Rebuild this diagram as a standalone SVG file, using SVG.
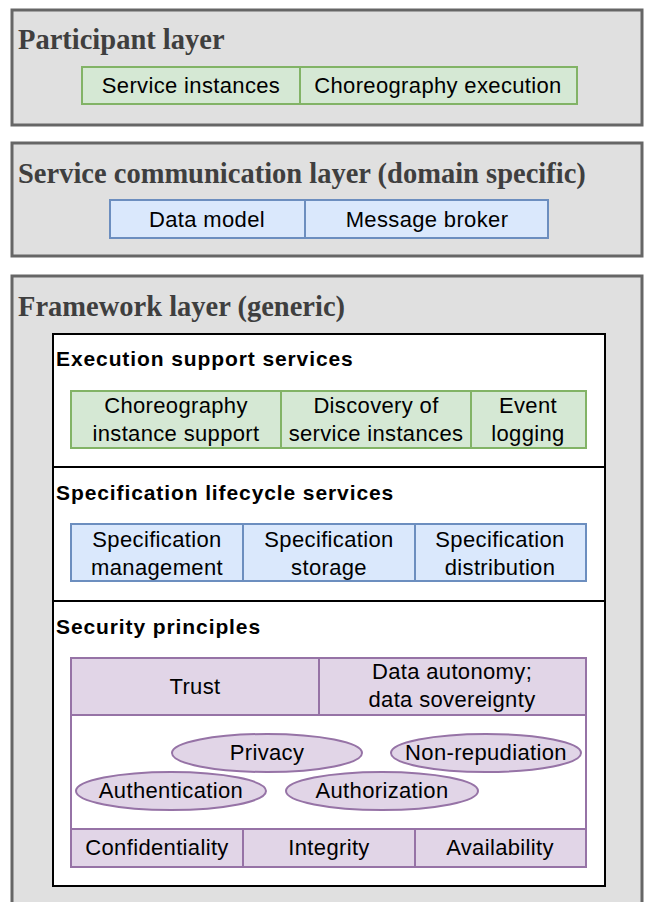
<svg xmlns="http://www.w3.org/2000/svg" width="648" height="902" viewBox="0 0 648 902">
  <style>
    .layer { fill: #e0e0e0; stroke: #666666; stroke-width: 3; }
    .layer-title { font-family: "Liberation Serif", "Times New Roman", serif; font-weight: bold; font-size: 28.5px; fill: #3f3f3f; }
    .group-box { fill: #ffffff; stroke: #000000; stroke-width: 2; }
    .group-title { font-family: "Liberation Sans", Arial, sans-serif; font-weight: bold; font-size: 21px; letter-spacing: 0.9px; fill: #000000; }
    .label { font-family: "Liberation Sans", Arial, sans-serif; font-size: 22px; letter-spacing: 0.35px; fill: #000000; text-anchor: middle; }
    .green { fill: #d5e8d4; stroke: #82b366; stroke-width: 2; }
    .blue { fill: #dae8fc; stroke: #6c8ebf; stroke-width: 2; }
    .purple { fill: #e1d5e7; stroke: #9673a6; stroke-width: 2; }
    .plain { fill: #ffffff; stroke: #9673a6; stroke-width: 2; }
  </style>

  <!-- Participant layer -->
  <g id="participant-layer">
    <rect class="layer" x="12" y="10" width="630" height="115"/>
    <text class="layer-title" x="18" y="49">Participant layer</text>
    <g id="service-instances">
      <rect class="green" x="82" y="67" width="218" height="37"/>
      <text class="label" x="191" y="92.5">Service instances</text>
    </g>
    <g id="choreography-execution">
      <rect class="green" x="300" y="67" width="277" height="37"/>
      <text class="label" x="438" y="92.5">Choreography execution</text>
    </g>
  </g>

  <!-- Service communication layer -->
  <g id="service-communication-layer">
    <rect class="layer" x="12" y="143" width="630" height="113"/>
    <text class="layer-title" x="18" y="182.5">Service communication layer (domain specific)</text>
    <g id="data-model">
      <rect class="blue" x="110" y="200" width="195" height="38"/>
      <text class="label" x="207" y="227">Data model</text>
    </g>
    <g id="message-broker">
      <rect class="blue" x="305" y="200" width="243" height="38"/>
      <text class="label" x="427" y="227">Message broker</text>
    </g>
  </g>

  <!-- Framework layer -->
  <g id="framework-layer">
    <rect class="layer" x="12" y="276" width="630" height="640"/>
    <text class="layer-title" x="18" y="315.5">Framework layer (generic)</text>
    <rect class="group-box" x="53" y="334" width="552" height="552"/>
    <line x1="53" y1="467" x2="605" y2="467" stroke="#000000" stroke-width="2"/>
    <line x1="53" y1="601" x2="605" y2="601" stroke="#000000" stroke-width="2"/>
  </g>

  <!-- Execution support services -->
  <g id="execution-support-services">
    <text class="group-title" x="56" y="366">Execution support services</text>
    <g id="choreography-instance-support">
      <rect class="green" x="71" y="391" width="210" height="57"/>
      <text class="label" x="176" y="413">Choreography</text>
      <text class="label" x="176" y="441">instance support</text>
    </g>
    <g id="discovery-of-service-instances">
      <rect class="green" x="281" y="391" width="190" height="57"/>
      <text class="label" x="376" y="413">Discovery of</text>
      <text class="label" x="376" y="441">service instances</text>
    </g>
    <g id="event-logging">
      <rect class="green" x="471" y="391" width="115" height="57"/>
      <text class="label" x="528" y="413">Event</text>
      <text class="label" x="528" y="441">logging</text>
    </g>
  </g>

  <!-- Specification lifecycle services -->
  <g id="specification-lifecycle-services">
    <text class="group-title" x="56" y="500">Specification lifecycle services</text>
    <g id="specification-management">
      <rect class="blue" x="71" y="524" width="172" height="57"/>
      <text class="label" x="157" y="547">Specification</text>
      <text class="label" x="157" y="575">management</text>
    </g>
    <g id="specification-storage">
      <rect class="blue" x="243" y="524" width="172" height="57"/>
      <text class="label" x="329" y="547">Specification</text>
      <text class="label" x="329" y="575">storage</text>
    </g>
    <g id="specification-distribution">
      <rect class="blue" x="415" y="524" width="171" height="57"/>
      <text class="label" x="500" y="547">Specification</text>
      <text class="label" x="500" y="575">distribution</text>
    </g>
  </g>

  <!-- Security principles -->
  <g id="security-principles">
    <text class="group-title" x="56" y="634">Security principles</text>
    <rect class="plain" x="71" y="715" width="515" height="114"/>
    <g id="trust">
      <rect class="purple" x="71" y="658" width="248" height="57"/>
      <text class="label" x="195" y="694">Trust</text>
    </g>
    <g id="data-autonomy">
      <rect class="purple" x="319" y="658" width="267" height="57"/>
      <text class="label" x="452" y="679">Data autonomy;</text>
      <text class="label" x="452" y="707">data sovereignty</text>
    </g>
    <g id="privacy">
      <ellipse class="purple" cx="267" cy="753" rx="95" ry="19"/>
      <text class="label" x="267" y="760">Privacy</text>
    </g>
    <g id="non-repudiation">
      <ellipse class="purple" cx="486" cy="753" rx="95" ry="19"/>
      <text class="label" x="486" y="760">Non-repudiation</text>
    </g>
    <g id="authentication">
      <ellipse class="purple" cx="171" cy="791" rx="95" ry="19"/>
      <text class="label" x="171" y="798">Authentication</text>
    </g>
    <g id="authorization">
      <ellipse class="purple" cx="382" cy="791" rx="96" ry="19"/>
      <text class="label" x="382" y="798">Authorization</text>
    </g>
    <g id="confidentiality">
      <rect class="purple" x="71" y="829" width="172" height="38"/>
      <text class="label" x="157" y="855">Confidentiality</text>
    </g>
    <g id="integrity">
      <rect class="purple" x="243" y="829" width="172" height="38"/>
      <text class="label" x="329" y="855">Integrity</text>
    </g>
    <g id="availability">
      <rect class="purple" x="415" y="829" width="171" height="38"/>
      <text class="label" x="500" y="855">Availability</text>
    </g>
  </g>

  <!-- no connectors in this diagram -->
  <g id="connectors"/>
</svg>
